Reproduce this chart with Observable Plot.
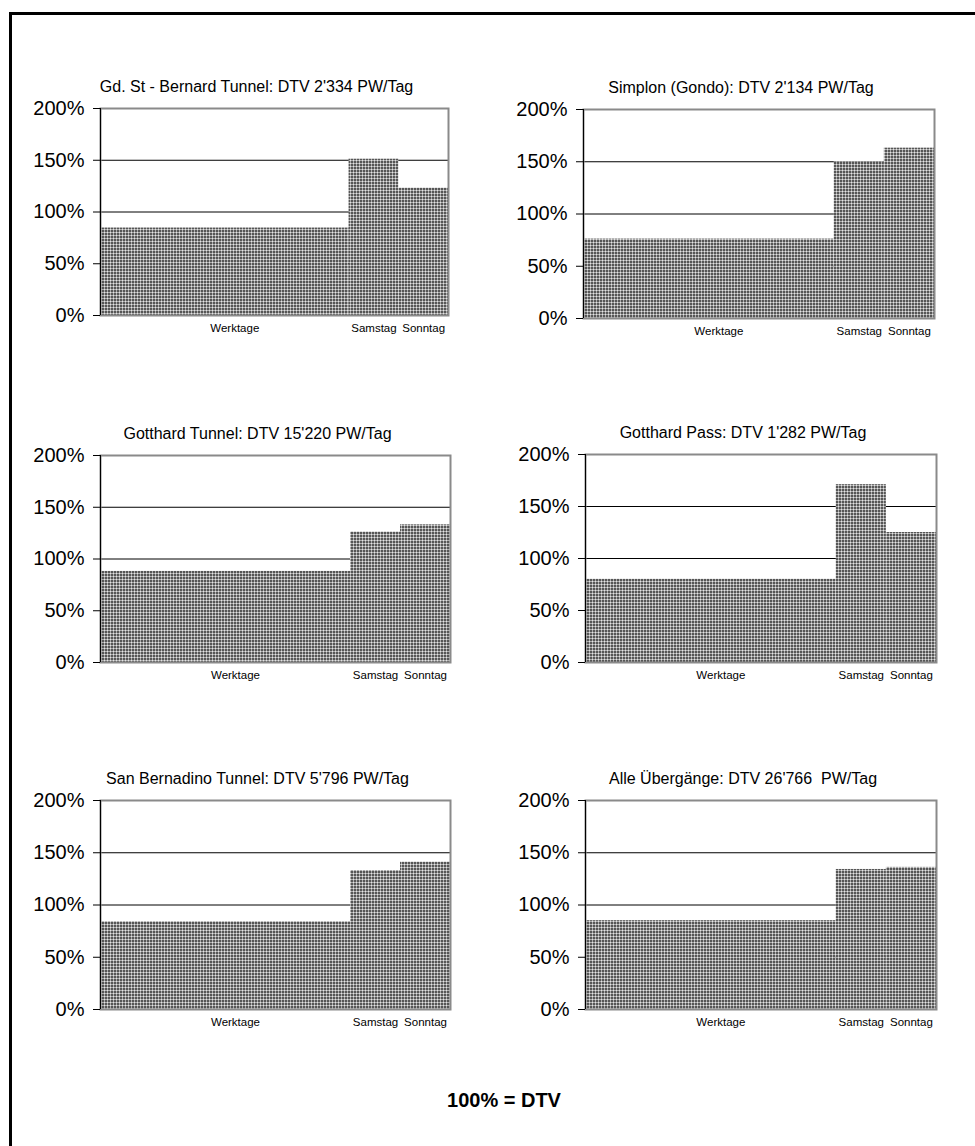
<!DOCTYPE html>
<html>
<head>
<meta charset="utf-8">
<script src="https://cdn.jsdelivr.net/npm/d3@7"></script>
<script src="https://cdn.jsdelivr.net/npm/@observablehq/plot@0.6"></script>
<style>
  html, body { margin: 0; padding: 0; background: #fff; }
  #wrap { position: relative; width: 975px; height: 1146px; overflow: hidden; font-family: "Liberation Sans", Arial, sans-serif; }
  #frame { position: absolute; left: 9px; top: 12px; width: 1000px; height: 1200px; border-left: 3px solid #000; border-top: 3px solid #000; box-sizing: border-box; }
  .panel { position: absolute; }
  .panel svg text { white-space: pre; }
  #foot { position: absolute; left: 404px; width: 200px; top: 1089px; text-align: center; font-weight: bold; font-size: 20px; color: #000; }
</style>
</head>
<body>
<div id="wrap">
  <div id="frame"></div>
  <svg width="0" height="0" style="position:absolute">
    <defs>
      <pattern id="chk" width="3" height="3" patternUnits="userSpaceOnUse">
        <rect width="3" height="3" fill="#ababab"></rect>
        <rect x="0" y="0" width="2" height="2" fill="#565656"></rect>
        <rect x="2" y="2" width="1" height="1" fill="#e4e4e4"></rect>
      </pattern>
    </defs>
  </svg>
  <div id="foot">100% = DTV</div>
</div>
<script>
// ---- data ----
const titles = [
  "Gd. St - Bernard Tunnel: DTV 2'334 PW/Tag",
  "Simplon (Gondo): DTV 2'134 PW/Tag",
  "Gotthard Tunnel: DTV 15'220 PW/Tag",
  "Gotthard Pass: DTV 1'282 PW/Tag",
  "San Bernadino Tunnel: DTV 5'796 PW/Tag",
  "Alle Übergänge: DTV 26'766  PW/Tag"
];
const categories = ["Werktage", "Samstag", "Sonntag"];
const dayCounts = [5, 1, 1];
const werktage = [84.5, 76, 88, 80, 84, 85];
const samstag  = [151, 150, 126, 171, 133, 134];
const sonntag  = [123, 163, 133, 125, 141, 136];
const yTicks = [0, 50, 100, 150, 200];
const gridValues = [50, 100, 150];

// ---- layout (plot-area rectangles: left, top, right, bottom) ----
const areas = [
  [100, 108, 448, 315], [583, 109, 934, 318],
  [100, 455, 450, 662], [585, 454, 936, 662],
  [100, 800, 450, 1009], [585, 800, 936, 1009]
];
const M = {left: 70, right: 12, top: 40, bottom: 30};

const wrap = document.getElementById("wrap");
const starts = d3.cumsum([0, ...dayCounts]);

titles.forEach((title, i) => {
  const vals = [werktage[i], samstag[i], sonntag[i]];
  const data = categories.map((c, j) => ({cat: c, x1: starts[j], x2: starts[j + 1], v: vals[j]}));
  const [l, t, r, b] = areas[i];
  const w = r - l + M.left + M.right;
  const h = b - t + M.top + M.bottom;
  const chart = Plot.plot({
    width: w, height: h,
    marginLeft: M.left, marginRight: M.right, marginTop: M.top, marginBottom: M.bottom,
    style: {fontFamily: "'Liberation Sans', Arial, sans-serif", color: "#000", background: "transparent", overflow: "visible"},
    x: {domain: [0, 7], axis: null},
    y: {domain: [0, 200], axis: null},
    marks: [
      Plot.ruleY(gridValues, {stroke: "#000", strokeWidth: 1}),
      Plot.rectY(data, {x1: "x1", x2: "x2", y: "v", fill: "url(#chk)"}),
      Plot.frame({stroke: "#8a8a8a", strokeWidth: 2}),
      Plot.ruleX([0], {stroke: "#000", strokeWidth: 1}),
      Plot.axisY({ticks: yTicks, tickFormat: d => d + "%", tickSize: 7, tickPadding: 9, fontSize: 20, stroke: "#000", label: null}),
      Plot.text(data.filter(d => d.cat !== "Werktage"), {x: d => (d.x1 + d.x2) / 2, y: () => 0, text: "cat", dy: 13, fontSize: 11.5, fill: "#000"}),
      Plot.text(data.filter(d => d.cat === "Werktage"), {x: d => (d.x1 + d.x2) / 2, y: () => 0, text: "cat", dy: 13, dx: 10, fontSize: 11.5, fill: "#000"}),
      Plot.text([title], {frameAnchor: "top", text: d => d, dy: -28, dx: -18, fontSize: 16, fill: "#000"})
    ]
  });
  const holder = document.createElement("div");
  holder.className = "panel";
  holder.style.left = (l - M.left) + "px";
  holder.style.top = (t - M.top) + "px";
  holder.appendChild(chart);
  wrap.appendChild(holder);
});
</script>
</body>
</html>
